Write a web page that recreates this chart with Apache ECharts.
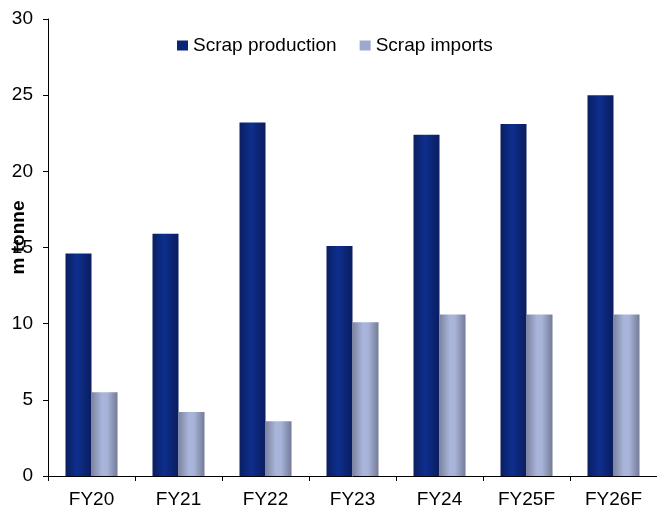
<!DOCTYPE html>
<html><head><meta charset="utf-8">
<script src="https://cdn.jsdelivr.net/npm/echarts@6/dist/echarts.min.js"></script>
<style>html,body{margin:0;padding:0;background:#fff}#c{width:657px;height:514px}</style>
</head><body><div id="c"></div>
<script>
const categories = ['FY20','FY21','FY22','FY23','FY24','FY25F','FY26F'];
const scrapProduction = [14.6, 15.9, 23.2, 15.1, 22.4, 23.1, 25.0];
const scrapImports = [5.5, 4.2, 3.6, 10.1, 10.6, 10.6, 10.6];
const yTicks = [0, 5, 10, 15, 20, 25, 30];

const chart = echarts.init(document.getElementById('c'));
const font = 'Liberation Sans, Arial, sans-serif';
const prodGrad = new echarts.graphic.LinearGradient(0,0,1,0,[
  {offset:0,color:'#0a1f62'},{offset:0.45,color:'#0e2f8e'},{offset:1,color:'#0a1d5e'}]);
const impGrad = new echarts.graphic.LinearGradient(0,0,1,0,[
  {offset:0,color:'#7b839e'},{offset:0.4,color:'#aab5dc'},{offset:0.6,color:'#a8b3d9'},{offset:1,color:'#737b96'}]);
chart.setOption({
  animation:false,
  textStyle:{fontFamily:font},
  grid:{left:48,right:0,top:19,bottom:38,containLabel:false,outerBoundsMode:'none'},
  legend:{top:31,left:172,itemWidth:11,itemHeight:10,itemGap:23,icon:'rect',
    textStyle:{fontSize:19,color:'#000',fontFamily:font},
    data:[{name:'Scrap production',itemStyle:{color:'#0b2478'}},{name:'Scrap imports',itemStyle:{color:'#9ea8cc'}}]},
  xAxis:{type:'category',data:categories,
    axisLine:{lineStyle:{color:'#000'}},
    axisTick:{show:true,length:5,lineStyle:{color:'#000'}},
    axisLabel:{fontSize:19,color:'#000',margin:14,fontFamily:font}},
  yAxis:{type:'value',min:yTicks[0],max:yTicks[yTicks.length-1],interval:5,
    name:'m tonne',nameLocation:'middle',nameGap:20,nameMoveOverlap:false,
    nameTextStyle:{fontSize:19,fontWeight:'bold',color:'#000',fontFamily:font,padding:[0,0,0,20]},
    splitLine:{show:false},
    axisLine:{show:true,lineStyle:{color:'#000'}},
    axisTick:{show:true,length:5,lineStyle:{color:'#000'}},
    axisLabel:{fontSize:19,color:'#000',margin:15,fontFamily:font}},
  series:[
    {name:'Scrap production',type:'bar',data:scrapProduction,barWidth:26,barGap:'0%',
      itemStyle:{color:prodGrad}},
    {name:'Scrap imports',type:'bar',data:scrapImports,barWidth:26,barGap:'0%',
      itemStyle:{color:impGrad}}
  ]
});
</script></body></html>
